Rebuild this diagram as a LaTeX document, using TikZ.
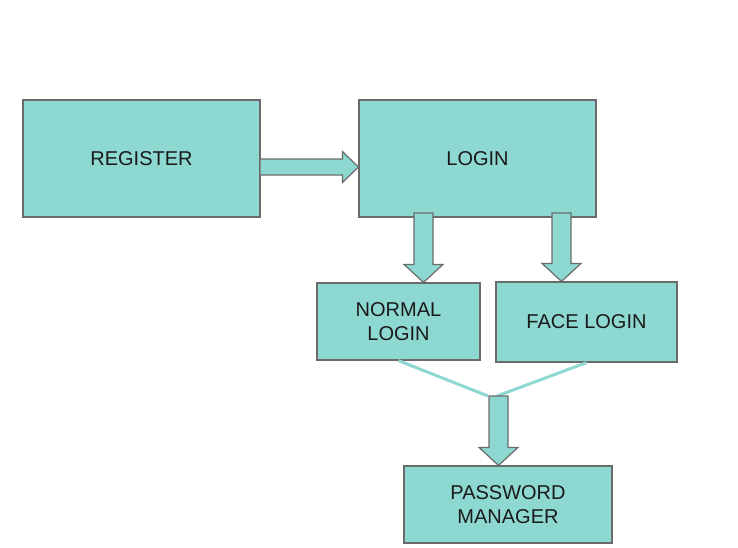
\documentclass[tikz,border=0pt]{standalone}
\usepackage{fontspec}
\setmainfont{Liberation Sans}
\usetikzlibrary{calc}
\definecolor{boxfill}{HTML}{8ED8D2}
\definecolor{boxline}{HTML}{6B6B6B}
\definecolor{txt}{HTML}{1A1A1A}
\tikzset{
  blk/.style={draw=boxline,fill=boxfill,line width=1.2pt,inner sep=0pt,align=center,text=txt,font=\fontsize{20}{24}\selectfont},
  arrowbox/.style={draw=boxline,fill=boxfill,line width=1.2pt,line join=miter},
  joinline/.style={draw=boxfill,line width=3pt}
}
% fat arrow: from, tip, half shaft, half head, head length
\newcommand{\blockarrow}[5]{%
  \draw[arrowbox] let \p1=(#1),\p2=(#2),\n1={veclen(\x2-\x1,\y2-\y1)},\n2={atan2(\y2-\y1,\x2-\x1)} in
  ($(\p1)+(\n2+90:#3)$) -- ($(\p1)+(\n2:{\n1-#5})+(\n2+90:#3)$) -- ($(\p1)+(\n2:{\n1-#5})+(\n2+90:#4)$) -- (\p2)
  -- ($(\p1)+(\n2:{\n1-#5})+(\n2-90:#4)$) -- ($(\p1)+(\n2:{\n1-#5})+(\n2-90:#3)$) -- ($(\p1)+(\n2-90:#3)$) -- cycle;}
\begin{document}
\begin{tikzpicture}[x=1pt,y=-1pt]
  \useasboundingbox (0,0) rectangle (738,547);
  \node[blk,minimum width=237pt,minimum height=117pt] (reg) at (141.5,158.5) {REGISTER};
  \node[blk,minimum width=237pt,minimum height=117pt] (login) at (477.5,158.5) {LOGIN};
  \node[blk,minimum width=163pt,minimum height=77pt] (normal) at (398.5,321.5) {NORMAL\\LOGIN};
  \node[blk,minimum width=181pt,minimum height=80pt] (face) at (586.5,322) {FACE LOGIN};
  \node[blk,minimum width=208pt,minimum height=77pt] (pwd) at (508,504.5) {PASSWORD\\MANAGER};
  \path (260,167) coordinate (s0) (423.5,213) coordinate (s1) (561.5,213) coordinate (s2)
    (498.5,396) coordinate (s3) (488,396) coordinate (j1) (497,396) coordinate (j2);
  \draw[joinline] (normal.south) -- (j1) (face.south) -- (j2);
  \blockarrow{s0}{login.west |- s0}{8pt}{15.5pt}{16pt}
  \blockarrow{s1}{normal.north -| s1}{9.5pt}{19.5pt}{18pt}
  \blockarrow{s2}{face.north -| s2}{9.5pt}{19.5pt}{18pt}
  \blockarrow{s3}{pwd.north -| s3}{9.5pt}{19.5pt}{18pt}
\end{tikzpicture}
\end{document}
